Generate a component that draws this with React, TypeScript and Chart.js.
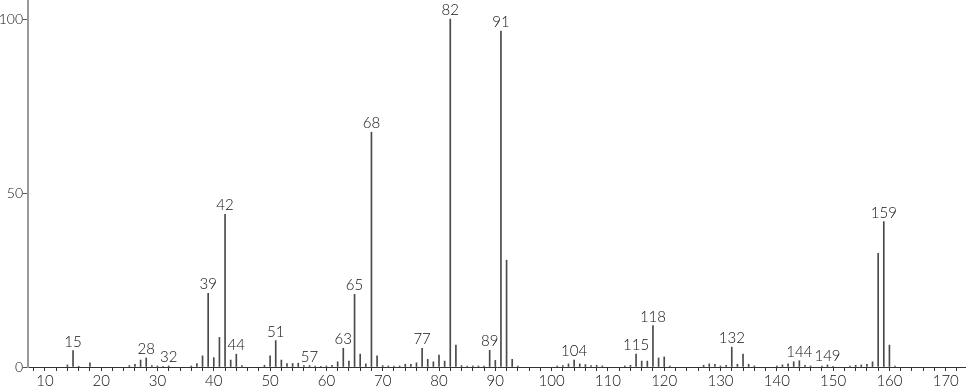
import React, { useEffect, useRef } from "react";
import { Chart, registerables } from "chart.js";

Chart.register(...registerables);

const mzValues = [
  14, 15, 16, 18, 25, 26, 27, 28, 29, 30, 31, 32, 36, 37, 38, 39, 40, 41, 42, 43, 44, 45,
  49, 50, 51, 52, 53, 54, 55, 56, 57, 58, 59, 60, 61, 62, 63, 64, 65, 66, 67, 68, 69,
  70, 71, 72, 73, 74, 75, 76, 77, 78, 79, 80, 81, 82, 83, 84, 85, 86, 87, 88, 89, 90,
  91, 92, 93, 94, 101, 102, 103, 104, 105, 106, 107, 108, 109, 113, 114, 115, 116, 117,
  118, 119, 120, 121, 127, 128, 129, 130, 131, 132, 133, 134, 135, 136, 140, 141, 142,
  143, 144, 145, 146, 148, 149, 150, 153, 154, 155, 156, 157, 158, 159, 160, 161,
];

const intensities = [
  0.6, 4.7, 0.2, 1.2, 0.4, 0.8, 2.0, 2.6, 0.4, 0.3, 0.2, 0.3, 0.3, 1.0, 3.2, 21.2, 2.7, 8.5, 43.9, 2.0, 3.7, 0.4,
  0.5, 3.2, 7.6, 2.0, 1.0, 1.0, 1.1, 0.4, 0.4, 0.3, 0.2, 0.3, 0.5, 1.5, 5.4, 1.7, 20.9, 3.7, 0.9, 67.5, 3.2,
  0.4, 0.3, 0.3, 0.3, 0.8, 0.8, 1.2, 5.4, 2.2, 1.5, 3.4, 1.7, 100, 6.3, 0.4, 0.3, 0.3, 0.3, 0.3, 4.8, 1.9,
  96.6, 30.7, 2.2, 0.3, 0.3, 0.4, 0.9, 2.0, 0.9, 0.7, 0.4, 0.5, 0.3, 0.3, 0.5, 3.7, 1.7, 1.7,
  11.9, 2.6, 2.9, 0.3, 0.5, 0.9, 0.8, 0.3, 0.5, 5.7, 0.8, 3.7, 0.8, 0.3, 0.3, 0.6, 0.9,
  1.5, 1.8, 0.5, 0.3, 0.3, 0.6, 0.2, 0.3, 0.5, 0.6, 0.8, 1.5, 32.7, 41.8, 6.3, 0.3,
];

const labelledPeaks = [15, 28, 32, 39, 42, 44, 51, 57, 63, 65, 68, 77, 82, 89, 91, 104, 115, 118, 132, 144, 149, 159];

const xTickValues = [
  8, 10, 12, 14, 16, 18, 20, 22, 24, 26, 28, 30, 32, 34, 36, 38, 40, 42, 44, 46, 48, 50, 52, 54, 56, 58,
  60, 62, 64, 66, 68, 70, 72, 74, 76, 78, 80, 82, 84, 86, 88, 90, 92, 94, 96, 98, 100, 102, 104, 106,
  108, 110, 112, 114, 116, 118, 120, 122, 124, 126, 128, 130, 132, 134, 136, 138, 140, 142, 144, 146,
  148, 150, 152, 154, 156, 158, 160, 162, 164, 166, 168, 170, 172,
];
const yTickValues = [0, 50, 100];

const FONT = "Lato, 'Open Sans', sans-serif";

export default function App() {
  const canvasRef = useRef<HTMLCanvasElement | null>(null);

  useEffect(() => {
    const canvas = canvasRef.current;
    if (!canvas) return;

    const peakLabels = {
      id: "peakLabels",
      afterDatasetsDraw(chart: any) {
        const ctx = chart.ctx;
        const meta = chart.getDatasetMeta(0);
        ctx.save();
        ctx.fillStyle = "#111";
        ctx.font = `300 15px ${FONT}`;
        ctx.textAlign = "center";
        ctx.textBaseline = "alphabetic";
        labelledPeaks.forEach((m) => {
          const idx = mzValues.indexOf(m);
          if (idx < 0) return;
          const el = meta.data[idx];
          ctx.fillText(String(m), el.x, el.y - 4);
        });
        ctx.restore();
      },
    };

    const chart = new Chart(canvas, {
      type: "bar",
      data: {
        datasets: [
          {
            data: mzValues.map((m, i) => ({ x: m, y: intensities[i] })),
            backgroundColor: "#4a4a4a",
            borderWidth: 0,
            barThickness: 1,
            grouped: false,
          } as any,
        ],
      },
      options: {
        responsive: false,
        maintainAspectRatio: false,
        animation: false,
        devicePixelRatio: 1,
        layout: { padding: 0 },
        plugins: {
          legend: { display: false },
          tooltip: { enabled: false },
        },
        scales: {
          x: {
            type: "linear",
            offset: false,
            min: 7,
            max: 173.6,
            afterBuildTicks: (scale: any) => {
              scale.ticks = xTickValues.map((v) => ({ value: v }));
            },
            afterFit: (scale: any) => {
              scale.height = 22;
              scale.paddingLeft = 0;
              scale.paddingRight = 0;
            },
            ticks: {
              autoSkip: false,
              maxRotation: 0,
              padding: 1,
              color: "#111",
              font: { family: FONT, size: 15, weight: "300" },
              callback: (v: any) => (Number(v) % 10 === 0 ? String(v) : ""),
            },
            grid: {
              drawOnChartArea: false,
              offset: false,
              tickLength: 4,
              color: "#333",
            },
            border: { color: "#333", width: 1 },
          },
          y: {
            min: 0,
            max: 105.5,
            afterBuildTicks: (scale: any) => {
              scale.ticks = yTickValues.map((v) => ({ value: v }));
            },
            afterFit: (scale: any) => {
              scale.width = 28;
              scale.paddingTop = 0;
              scale.paddingBottom = 0;
            },
            ticks: {
              padding: 0,
              color: "#111",
              font: { family: FONT, size: 14, weight: "300" },
            },
            grid: {
              drawOnChartArea: false,
              tickLength: 5,
              color: "#555",
            },
            border: { color: "#999", width: 2 },
          },
        },
      },
      plugins: [peakLabels],
    });

    return () => chart.destroy();
  }, []);

  return (
    <div style={{ position: "fixed", left: 0, top: 0, width: 966, height: 389, background: "#fff" }}>
      <canvas ref={canvasRef} width={966} height={389} style={{ display: "block" }} />
    </div>
  );
}
